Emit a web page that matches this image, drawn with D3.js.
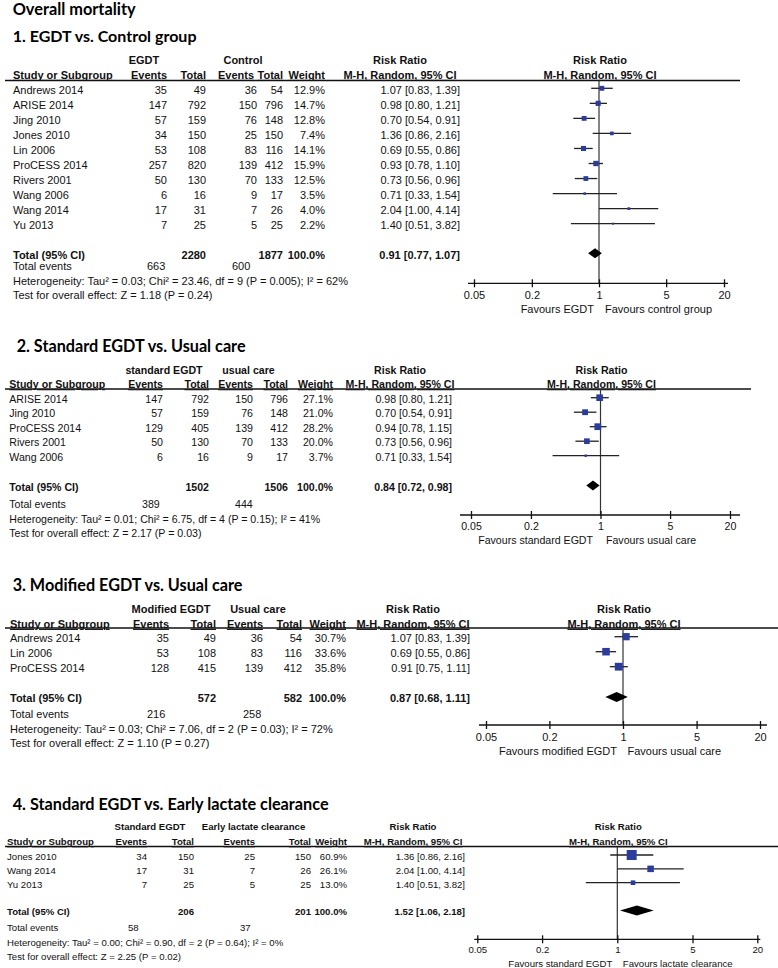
<!DOCTYPE html>
<html>
<head>
<meta charset="UTF-8">
<title>Overall mortality</title>
<script src="https://cdn.jsdelivr.net/npm/d3@7"></script>
<style>
    body { margin: 0; background: #fff; }
    svg text { font-family: "Liberation Sans", Arimo, Arial, sans-serif; fill: #111; }
    svg text.title { font-family: Lato, "Open Sans", sans-serif; font-weight: bold; fill: #000; }
    svg text.b { font-weight: bold; }
    svg text.u { text-decoration: underline; }
</style>
</head>
<body>
<div id="chart"></div>
<script>
    // ---- values ----
    const mainTitle = "Overall mortality";
    const panelTitles = ["1. EGDT vs. Control group", "2. Standard EGDT vs. Usual care",
        "3. Modified EGDT vs. Usual care", "4. Standard EGDT vs. Early lactate clearance"];
    const groupLabels = [["EGDT", "Control"], ["standard EGDT", "usual care"],
        ["Modified EGDT", "Usual care"], ["Standard EGDT", "Early lactate clearance"]];
    const favourLabels = [["Favours EGDT", "Favours control group"], ["Favours standard EGDT", "Favours usual care"],
        ["Favours modified EGDT", "Favours usual care"], ["Favours standard EGDT", "Favours lactate clearance"]];
    const columnHeads = ["Events", "Total", "Events", "Total", "Weight"];
    const axisTicks = [0.05, 0.2, 1, 5, 20];

    // 1. EGDT vs. Control group
    const p1Studies = ["Andrews 2014", "ARISE 2014", "Jing 2010", "Jones 2010", "Lin 2006",
        "ProCESS 2014", "Rivers 2001", "Wang 2006", "Wang 2014", "Yu 2013"];
    const p1Counts = [[35, 49, 36, 54], [147, 792, 150, 796], [57, 159, 76, 148], [34, 150, 25, 150], [53, 108, 83, 116],
        [257, 820, 139, 412], [50, 130, 70, 133], [6, 16, 9, 17], [17, 31, 7, 26], [7, 25, 5, 25]];
    const p1Weight = [12.9, 14.7, 12.8, 7.4, 14.1, 15.9, 12.5, 3.5, 4.0, 2.2];
    const p1RR = [[1.07, 0.83, 1.39], [0.98, 0.80, 1.21], [0.70, 0.54, 0.91], [1.36, 0.86, 2.16], [0.69, 0.55, 0.86],
        [0.93, 0.78, 1.10], [0.73, 0.56, 0.96], [0.71, 0.33, 1.54], [2.04, 1.00, 4.14], [1.40, 0.51, 3.82]];
    const p1Totals = [2280, 1877];
    const p1Events = [663, 600];
    const p1Pooled = [0.91, 0.77, 1.07];
    const p1Het = "Heterogeneity: Tau² = 0.03; Chi² = 23.46, df = 9 (P = 0.005); I² = 62%";
    const p1Test = "Test for overall effect: Z = 1.18 (P = 0.24)";

    // 2. Standard EGDT vs. Usual care
    const p2Studies = ["ARISE 2014", "Jing 2010", "ProCESS 2014", "Rivers 2001", "Wang 2006"];
    const p2Counts = [[147, 792, 150, 796], [57, 159, 76, 148], [129, 405, 139, 412], [50, 130, 70, 133], [6, 16, 9, 17]];
    const p2Weight = [27.1, 21.0, 28.2, 20.0, 3.7];
    const p2RR = [[0.98, 0.80, 1.21], [0.70, 0.54, 0.91], [0.94, 0.78, 1.15], [0.73, 0.56, 0.96], [0.71, 0.33, 1.54]];
    const p2Totals = [1502, 1506];
    const p2Events = [389, 444];
    const p2Pooled = [0.84, 0.72, 0.98];
    const p2Het = "Heterogeneity: Tau² = 0.01; Chi² = 6.75, df = 4 (P = 0.15); I² = 41%";
    const p2Test = "Test for overall effect: Z = 2.17 (P = 0.03)";

    // 3. Modified EGDT vs. Usual care
    const p3Studies = ["Andrews 2014", "Lin 2006", "ProCESS 2014"];
    const p3Counts = [[35, 49, 36, 54], [53, 108, 83, 116], [128, 415, 139, 412]];
    const p3Weight = [30.7, 33.6, 35.8];
    const p3RR = [[1.07, 0.83, 1.39], [0.69, 0.55, 0.86], [0.91, 0.75, 1.11]];
    const p3Totals = [572, 582];
    const p3Events = [216, 258];
    const p3Pooled = [0.87, 0.68, 1.11];
    const p3Het = "Heterogeneity: Tau² = 0.03; Chi² = 7.06, df = 2 (P = 0.03); I² = 72%";
    const p3Test = "Test for overall effect: Z = 1.10 (P = 0.27)";

    // 4. Standard EGDT vs. Early lactate clearance
    const p4Studies = ["Jones 2010", "Wang 2014", "Yu 2013"];
    const p4Counts = [[34, 150, 25, 150], [17, 31, 7, 26], [7, 25, 5, 25]];
    const p4Weight = [60.9, 26.1, 13.0];
    const p4RR = [[1.36, 0.86, 2.16], [2.04, 1.00, 4.14], [1.40, 0.51, 3.82]];
    const p4Totals = [206, 201];
    const p4Events = [58, 37];
    const p4Pooled = [1.52, 1.06, 2.18];
    const p4Het = "Heterogeneity: Tau² = 0.00; Chi² = 0.90, df = 2 (P = 0.64); I² = 0%";
    const p4Test = "Test for overall effect: Z = 2.25 (P = 0.02)";

    // ---- layout of each panel (pixels) ----
    const layouts = [
        {font: 11, titleX: 12.7, titleY: 41.5, titleW: 184, groupY: 60, headY: 75, lineY: 80.5, lineX2: 740,
            groupX: [144, 243], rrHeadX: 400, studyX: 13, cols: [167, 206, 257, 283, 325, 460],
            headCols: [167, 206, 254, 283, 325],
            rowY: 88.3, rowStep: 15.04, totalY: 253.3, eventsY: 266.5, hetY: 281, testY: 295.5, eventsX: [147, 232],
            xRange: [474, 724], axisY: 283.3, axisExt: [6, 4], labelY: 295, favY: 309, favGap: [5, 6], sq: 1.35},
        {font: 10.6, titleX: 16.7, titleY: 351.7, titleW: 229, groupY: 370, headY: 384.5, lineY: 389, lineX2: 751,
            groupX: [164, 248.5], rrHeadX: 400, studyX: 9.3, cols: [163, 209, 253, 288, 333, 452],
            headCols: [163, 209, 253, 288, 333],
            rowY: 397.7, rowStep: 14.5, totalY: 485.5, eventsY: 504, hetY: 519, testY: 533, eventsX: [142, 235],
            xRange: [471, 730], axisY: 515, axisExt: [11, 10], labelY: 526, favY: 540, favGap: [7.5, 5.5], sq: 1.27},
        {font: 11, titleX: 12.7, titleY: 590.7, titleW: 230, groupY: 609, headY: 624, lineY: 628, lineX2: 778,
            groupX: [171, 258], rrHeadX: 413, studyX: 10, cols: [169, 216, 263, 302, 346, 470],
            headCols: [169, 216, 263, 302, 346],
            rowY: 636.7, rowStep: 15, totalY: 697, eventsY: 714, hetY: 729, testY: 743, eventsX: [147, 243],
            xRange: [486, 760], axisY: 725, axisExt: [7, 7], labelY: 736.7, favY: 750.7, favGap: [6, 4.5], sq: 1.3},
        {font: 9.6, titleX: 12.7, titleY: 810, titleW: 316, groupY: 827, headY: 842, lineY: 846.5, lineX2: 778,
            groupX: [150, 253.5], rrHeadX: 413, studyX: 7, cols: [147, 194, 255, 311, 347, 465],
            headCols: [147, 194, 255, 311, 347],
            rowY: 855, rowStep: 13.85, totalY: 910.5, eventsY: 928, hetY: 942.7, testY: 956.7, eventsX: [128, 240],
            xRange: [477.3, 757.3], axisY: 939.3, axisExt: [3, 3], labelY: 950, favY: 963.3, favGap: [5, 5.5], sq: 1.28}
    ];

    const panels = [
        {studies: p1Studies, counts: p1Counts, weight: p1Weight, rr: p1RR, totals: p1Totals, events: p1Events, pooled: p1Pooled, het: p1Het, test: p1Test},
        {studies: p2Studies, counts: p2Counts, weight: p2Weight, rr: p2RR, totals: p2Totals, events: p2Events, pooled: p2Pooled, het: p2Het, test: p2Test},
        {studies: p3Studies, counts: p3Counts, weight: p3Weight, rr: p3RR, totals: p3Totals, events: p3Events, pooled: p3Pooled, het: p3Het, test: p3Test},
        {studies: p4Studies, counts: p4Counts, weight: p4Weight, rr: p4RR, totals: p4Totals, events: p4Events, pooled: p4Pooled, het: p4Het, test: p4Test}
    ];

    const squareColor = "#2b3c9c";
    const textShift = 1.5; // text sits a touch lower than the squares in the original

    const svg = d3.select("#chart").append("svg")
        .attr("width", 778)
        .attr("height", 968);

    // stretch a title's font size so it covers the same width as in the picture
    function fitWidth(sel, w) {
        const len = sel.node().getComputedTextLength();
        const size = parseFloat(sel.style("font-size"));
        sel.style("font-size", (size * w / len) + "px");
    }

    const rrString = r => r[0].toFixed(2) + " [" + r[1].toFixed(2) + ", " + r[2].toFixed(2) + "]";

    fitWidth(svg.append("text").attr("class", "title")
        .attr("x", 12.7).attr("y", 14.5).style("font-size", "16px").text(mainTitle), 123);

    function drawPanel(k) {
        const p = panels[k], L = layouts[k];
        const g = svg.append("g").style("font-size", L.font + "px");
        const x = d3.scaleLog().domain([axisTicks[0], axisTicks[axisTicks.length - 1]]).range(L.xRange);
        const c = x(1);

        const txt = (xx, yy, s, anchor, cls) => g.append("text")
            .attr("x", xx).attr("y", yy).attr("dy", "0.35em")
            .attr("text-anchor", anchor || "start")
            .attr("class", cls || null)
            .text(s);

        fitWidth(g.append("text").attr("class", "title")
            .attr("x", L.titleX).attr("y", L.titleY).style("font-size", "17px").text(panelTitles[k]), L.titleW);

        // headers
        txt(L.groupX[0], L.groupY, groupLabels[k][0], "middle", "b");
        txt(L.groupX[1], L.groupY, groupLabels[k][1], "middle", "b");
        txt(L.rrHeadX, L.groupY, "Risk Ratio", "middle", "b");
        txt(c + 1, L.groupY, "Risk Ratio", "middle", "b");

        txt(L.studyX, L.headY, "Study or Subgroup", "start", "b u");
        columnHeads.forEach((h, i) => txt(L.headCols[i], L.headY, h, "end", "b u"));
        txt(L.rrHeadX, L.headY, "M-H, Random, 95% CI", "middle", "b u");
        txt(c + 1, L.headY, "M-H, Random, 95% CI", "middle", "b u");

        g.append("line")
            .attr("x1", 5).attr("x2", L.lineX2)
            .attr("y1", L.lineY).attr("y2", L.lineY)
            .attr("stroke", "#111").attr("stroke-width", 1.3);

        // line of no effect
        g.append("line")
            .attr("x1", c).attr("x2", c)
            .attr("y1", L.lineY).attr("y2", L.axisY)
            .attr("stroke", "#333").attr("stroke-width", 1.2);

        // study rows
        const rowY = i => L.rowY + i * L.rowStep;
        p.studies.forEach((s, i) => {
            const y = rowY(i) + textShift;
            txt(L.studyX, y, s);
            p.counts[i].forEach((v, j) => txt(L.cols[j], y, v, "end"));
            txt(L.cols[4], y, p.weight[i].toFixed(1) + "%", "end");
            txt(L.cols[5], y, rrString(p.rr[i]), "end");
        });

        g.selectAll("line.ci")
            .data(p.rr)
            .enter()
            .append("line")
            .attr("class", "ci")
            .attr("x1", d => x(d[1])).attr("x2", d => x(d[2]))
            .attr("y1", (d, i) => rowY(i)).attr("y2", (d, i) => rowY(i))
            .attr("stroke", "#222").attr("stroke-width", 1.3);

        g.selectAll("rect.sq")
            .data(p.rr)
            .enter()
            .append("rect")
            .attr("class", "sq")
            .attr("x", (d, i) => x(d[0]) - L.sq * Math.sqrt(p.weight[i]) / 2)
            .attr("y", (d, i) => rowY(i) - L.sq * Math.sqrt(p.weight[i]) / 2)
            .attr("width", (d, i) => L.sq * Math.sqrt(p.weight[i]))
            .attr("height", (d, i) => L.sq * Math.sqrt(p.weight[i]))
            .attr("fill", squareColor);

        // pooled row
        const ty = L.totalY + textShift;
        txt(L.studyX, ty, "Total (95% CI)", "start", "b");
        txt(L.cols[1], ty, p.totals[0], "end", "b");
        txt(L.cols[3], ty, p.totals[1], "end", "b");
        txt(L.cols[4], ty, "100.0%", "end", "b");
        txt(L.cols[5], ty, rrString(p.pooled), "end", "b");

        const dh = 5;
        g.append("path")
            .attr("d", d3.line()([
                [x(p.pooled[1]), L.totalY], [x(p.pooled[0]), L.totalY - dh],
                [x(p.pooled[2]), L.totalY], [x(p.pooled[0]), L.totalY + dh]
            ]) + "Z")
            .attr("fill", "#000");

        txt(L.studyX, L.eventsY, "Total events");
        txt(L.eventsX[0], L.eventsY, p.events[0]);
        txt(L.eventsX[1], L.eventsY, p.events[1]);
        txt(L.studyX, L.hetY, p.het);
        txt(L.studyX, L.testY, p.test);

        // log axis
        const ax = g.append("g")
            .attr("transform", "translate(0," + L.axisY + ")")
            .call(d3.axisBottom(x).tickValues(axisTicks).tickFormat(d => String(d)).tickSize(4));
        ax.select(".domain").remove();
        ax.append("line")
            .attr("x1", L.xRange[0] - L.axisExt[0]).attr("x2", L.xRange[1] + L.axisExt[1])
            .attr("stroke", "#111").attr("stroke-width", 1.3);
        ax.selectAll(".tick line").attr("y1", -4).attr("y2", 4).attr("stroke", "#111").attr("stroke-width", 1.3);
        ax.selectAll(".tick text")
            .attr("y", L.labelY - L.axisY).attr("dy", "0.35em")
            .attr("fill", "#111")
            .style("font-size", L.font + "px")
            .style("font-family", "'Liberation Sans', Arimo, Arial, sans-serif");

        txt(c - L.favGap[0], L.favY, favourLabels[k][0], "end");
        txt(c + L.favGap[1], L.favY, favourLabels[k][1], "start");
    }

    for (let k = 0; k < panels.length; k++) drawPanel(k);
</script>
</body>
</html>
